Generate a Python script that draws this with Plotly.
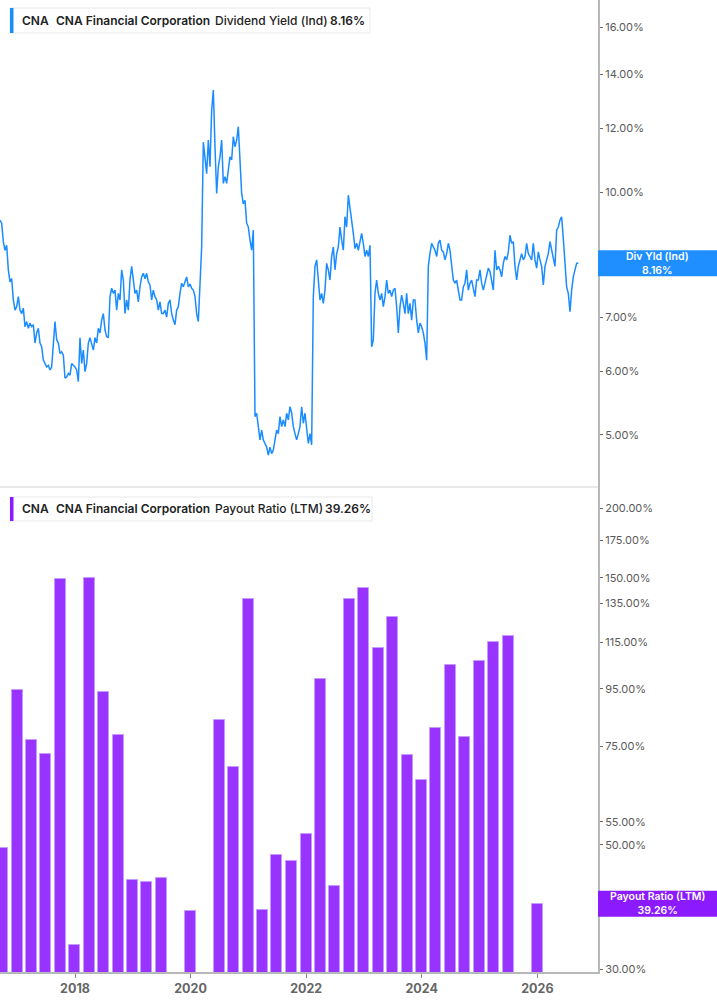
import pandas as pd
import plotly.graph_objects as go

# ---------------- data ----------------
div_yield_start = "2016-09-14"
div_yield_step = "15166min"  # regular sampling step of the traced series (~10.5 days)
div_yield = [
    9.23, 9.15, 8.68, 8.47, 8.59, 8.01, 7.74, 7.81, 7.35, 7.14,
    7.21, 7.42, 7.14, 7.07, 7.18, 6.81, 6.91, 6.78, 6.88, 6.81,
    6.85, 6.50, 6.69, 6.78, 6.50, 6.43, 6.19, 6.13, 6.07, 6.10,
    6.02, 6.07, 6.43, 6.91, 6.56, 6.50, 6.31, 6.34, 6.28, 5.88,
    5.90, 5.96, 5.93, 6.13, 6.10, 6.07, 6.02, 5.82, 6.60, 6.13,
    6.37, 5.99, 6.13, 6.50, 6.60, 6.50, 6.37, 6.60, 6.50, 6.78,
    6.69, 6.94, 7.07, 6.75, 6.62, 6.60, 7.42, 7.60, 7.49, 7.56,
    7.14, 7.49, 7.35, 8.01, 7.78, 7.07, 7.35, 7.14, 7.78, 8.09,
    7.78, 7.49, 7.56, 7.31, 7.63, 7.85, 7.93, 7.81, 7.93, 7.74,
    7.67, 7.35, 7.56, 7.42, 7.35, 7.14, 7.31, 7.07, 7.07, 7.14,
    7.00, 7.28, 7.35, 7.07, 6.94, 6.85, 7.14, 7.21, 7.49, 7.71,
    7.63, 7.74, 7.85, 7.63, 7.69, 7.60, 7.56, 7.42, 7.07, 6.91,
    7.78, 8.55, 11.53, 11.06, 10.54, 11.60, 10.75, 12.64, 13.38, 11.38,
    9.96, 10.75, 11.06, 11.60, 10.25, 10.45, 10.25, 10.65, 11.06, 10.96,
    11.71, 11.38, 11.60, 12.05, 10.75, 9.96, 9.67, 9.77, 9.15, 9.05,
    8.72, 8.47, 8.97, 5.27, 5.32, 5.10, 4.93, 5.07, 4.93, 4.88,
    4.83, 4.72, 4.83, 4.74, 4.79, 4.93, 5.07, 5.02, 5.27, 5.12,
    5.22, 5.12, 5.32, 5.22, 5.42, 5.32, 5.12, 5.02, 4.93, 5.02,
    5.12, 5.42, 5.17, 5.32, 5.12, 4.88, 5.02, 4.86, 7.42, 8.09,
    8.24, 7.78, 7.35, 7.49, 7.28, 7.56, 8.16, 8.01, 7.78, 8.32,
    8.55, 8.01, 8.39, 8.55, 9.05, 8.72, 8.47, 9.32, 9.05, 9.91,
    9.58, 9.23, 8.89, 8.51, 8.64, 8.47, 8.72, 8.89, 8.64, 8.32,
    8.47, 8.32, 8.59, 6.43, 6.56, 7.49, 7.78, 7.49, 7.35, 7.49,
    7.21, 7.42, 7.78, 7.49, 7.56, 7.42, 7.56, 7.60, 7.21, 6.69,
    7.21, 7.45, 7.28, 7.07, 7.49, 7.07, 7.28, 6.94, 7.35, 7.35,
    6.94, 6.69, 6.88, 6.81, 6.69, 6.50, 6.19, 8.09, 8.39, 8.64,
    8.55, 8.47, 8.32, 8.64, 8.72, 8.47, 8.43, 8.24, 8.39, 8.64,
    8.47, 8.16, 7.78, 7.71, 7.78, 7.56, 7.35, 7.35, 7.63, 7.71,
    8.01, 7.56, 7.71, 7.78, 7.63, 7.42, 7.78, 7.78, 8.01, 7.71,
    7.56, 7.71, 7.85, 8.05, 7.97, 7.78, 7.56, 8.47, 8.01, 8.09,
    8.01, 7.85, 8.16, 8.32, 8.24, 8.43, 8.84, 8.64, 8.68, 8.09,
    7.78, 8.09, 8.24, 8.39, 8.24, 8.32, 8.64, 8.39, 8.32, 8.24,
    8.64, 8.24, 8.05, 8.43, 8.24, 8.09, 7.67, 8.09, 8.24, 8.39,
    8.68, 8.47, 8.20, 8.09, 8.97, 9.05, 9.23, 9.32, 8.76, 8.24,
    7.63, 7.49, 7.11, 7.56, 7.85, 8.01, 8.16, 8.16,
]
div_dates = pd.date_range(div_yield_start, periods=len(div_yield), freq=div_yield_step)

payout_quarters = pd.date_range("2016-09-30", "2025-12-31", freq="QE")
payout_ratio = [
    49.4, 94.6,
    77.0, 72.7, 149.3, 33.1,
    149.9, 93.8, 78.6, 43.3,
    42.9, 43.6, None, 38.1,
    None, 83.6, 68.9, 137.5,
    38.2, 48.0, 46.8, 52.3,
    99.0, 42.2, 137.5, 143.9,
    112.4, 127.7, 72.4, 65.3,
    80.9, 104.8, 77.9, 106.5,
    115.2, 118.1, None, 39.26,
]

yield_ticks = [5, 6, 7, 8, 10, 12, 14, 16]
yield_ticktext = ["5.00%", "6.00%", "7.00%", "8.00%", "10.00%", "12.00%", "14.00%", "16.00%"]
payout_ticks = [30, 50, 55, 75, 95, 115, 135, 150, 175, 200]
payout_ticktext = ["30.00%", "50.00%", "55.00%", "75.00%", "95.00%", "115.00%",
                   "135.00%", "150.00%", "175.00%", "200.00%"]

ticker = "CNA"
company = "CNA Financial Corporation"
top_metric = "Dividend Yield (Ind)"
top_value = "8.16%"
top_tag = "Div Yld (Ind)"
bot_metric = "Payout Ratio (LTM)"
bot_value = "39.26%"
bot_tag = "Payout Ratio (LTM)"

# ---------------- style ----------------
BLUE = "#1a8cff"
BLUE_TAG = "#1f8fff"
PURPLE = "#9933ff"
PURPLE_TAG = "#8c1aff"
AX = "#b8b8b8"
TXT = "#5a5a5a"
FONT = "Inter"

W, H = 717, 1005
ML, MR, MT, MB = 0, 119, 0, 33
PW, PH = W - ML - MR, H - MT - MB
SPLIT = 487  # px from top where the panels meet


def px(x):
    return (x - ML) / PW


def py(y):
    return 1 - (y - MT) / PH


split_paper = py(SPLIT)
x_range = ["2016-09-14", "2027-01-19"]

fig = go.Figure()
fig.add_trace(go.Scatter(
    x=div_dates, y=div_yield, mode="lines",
    line=dict(color=BLUE, width=1.5), xaxis="x", yaxis="y",
    showlegend=False, hoverinfo="skip"))
fig.add_trace(go.Bar(
    x=payout_quarters, y=payout_ratio, xaxis="x2", yaxis="y2",
    width=6.0e9,
    marker=dict(color=PURPLE, line=dict(color="#c59bff", width=1)),
    showlegend=False, hoverinfo="skip"))

axis_common = dict(showgrid=False, zeroline=False)
fig.update_layout(
    width=W, height=H,
    margin=dict(l=ML, r=MR, t=MT, b=MB),
    paper_bgcolor="white", plot_bgcolor="white",
    font=dict(family=FONT, color=TXT, size=11),
    bargap=0,
    xaxis=dict(domain=[0, 1], anchor="y", range=x_range, type="date",
               showticklabels=False, ticks="", showline=False, **axis_common),
    xaxis2=dict(domain=[0, 1], anchor="y2", range=x_range, type="date",
                showline=True, linecolor=AX, linewidth=2,
                ticks="outside", ticklen=4, tickcolor="#8a8a8a", tickwidth=1,
                tick0="2018-01-01", dtick="M24", tickformat="%Y",
                tickfont=dict(family=FONT, size=12.5, color="#666666", weight=700),
                **axis_common),
    yaxis=dict(domain=[split_paper, 1], anchor="x", side="right", type="log",
               range=[0.6345, 1.2380], tickvals=yield_ticks, ticktext=yield_ticktext,
               showline=True, linecolor=AX, linewidth=2,
               ticks="outside", ticklen=3, tickcolor="#666666", tickwidth=1,
               tickfont=dict(family=FONT, size=11, color=TXT), **axis_common),
    yaxis2=dict(domain=[0, split_paper], anchor="x2", side="right", type="log",
                range=[1.4719, 2.3386], tickvals=payout_ticks, ticktext=payout_ticktext,
                showline=True, linecolor=AX, linewidth=2,
                ticks="outside", ticklen=3, tickcolor="#666666", tickwidth=1,
                tickfont=dict(family=FONT, size=11, color=TXT), **axis_common),
)

shapes = []
# separator between panels
shapes.append(dict(type="line", xref="paper", yref="paper", x0=0, x1=1,
                   y0=split_paper, y1=split_paper,
                   line=dict(color="#e2e2e2", width=1.5), layer="above"))


def legend_box(y0, y1, x1, color):
    shapes.append(dict(type="rect", xref="paper", yref="paper",
                       x0=px(10), x1=px(x1), y0=py(y1), y1=py(y0),
                       fillcolor="white", line=dict(color="#e8e8e8", width=1),
                       layer="above"))
    shapes.append(dict(type="rect", xref="paper", yref="paper",
                       x0=px(10), x1=px(13.5), y0=py(y1), y1=py(y0),
                       fillcolor=color, line=dict(width=0), layer="above"))


legend_box(8, 33, 370, BLUE)
legend_box(497, 521, 372, "#8c1aff")


def value_tag(yc, color):
    shapes.append(dict(type="rect", xref="paper", yref="paper",
                       x0=1, x1=px(W), y0=py(yc + 13), y1=py(yc - 13),
                       fillcolor=color, line=dict(width=0), layer="above"))


value_tag(263.3, BLUE_TAG)
value_tag(903.8, PURPLE_TAG)

annotations = []


def text(x, y, s, weight=600, size=12, color="#222222"):
    annotations.append(dict(xref="paper", yref="paper", x=px(x), y=py(y),
                            xanchor="left", yanchor="middle", showarrow=False,
                            text=s, font=dict(family=FONT, size=size,
                                              color=color, weight=weight)))


text(20, 20.5, ticker)
text(54, 20.5, company)
text(213, 20.5, top_metric, weight=500)
text(328, 20.5, top_value)

text(20, 508.5, ticker)
text(54, 508.5, company)
text(212.5, 508.5, bot_metric, weight=500)
text(323, 508.5, bot_value)

for yc, lab, val in [(263.3, top_tag, top_value), (903.8, bot_tag, bot_value)]:
    annotations.append(dict(xref="paper", yref="paper", x=px(657.5), y=py(yc),
                            xanchor="center", yanchor="middle", showarrow=False,
                            text=f"{lab}<br>{val}", align="center",
                            font=dict(family=FONT, size=10.5, color="white", weight=600)))

fig.update_layout(shapes=shapes, annotations=annotations)
fig.write_html("out.html", config={"displayModeBar": False},
               post_script="document.body.style.margin='0';document.body.style.overflow='hidden';")
